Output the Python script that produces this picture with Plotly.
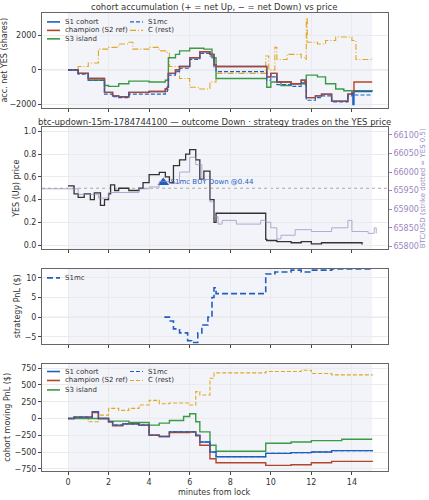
import plotly.graph_objects as go

# ---- panel 1: cohort accumulation (shares) ----
acc_t_s1 = [0,0.5,1,1.8,2.2,2.5,3,4,4.8,4.9,4.95,5.3,5.5,6,6.5,7,7.2,7.3,9.75,9.8,10,10.3,11,11.5,11.7,11.75,12.2,12.5,13,13.5,13.8,14,14.05,14.1,15]
acc_s1 = [0,-200,-500,-1300,-1500,-1550,-1300,-1250,-1100,-1000,-200,0,200,700,1050,900,300,200,200,-400,-200,-700,-800,-600,-700,-1600,-1500,-1400,-1800,-1800,-1400,-1300,-2000,-1250,-1250]
acc_champ = [0,-200,-500,-1300,-1500,-1550,-1300,-1250,-1100,-1000,-200,0,200,700,1050,900,300,200,200,-400,-200,-700,-800,-600,-700,-1600,-1500,-1400,-1800,-1800,-1400,-1300,-1300,-700,-700]
acc_s1mc = [0,-250,-600,-1400,-1550,-1600,-1400,-1400,-1250,-1150,-300,-100,100,600,950,800,100,-100,-100,-600,-400,-850,-950,-750,-850,-1750,-1600,-1500,-1850,-1850,-1500,-1400,-1450,-1450,-1450]
acc_t_s3 = [0,0.5,1,1.8,2,2.5,3,4,4.8,4.95,5.3,5.5,6,6.7,7.1,7.3,9.75,9.8,10,10.5,11,11.7,11.75,12.3,12.7,13.2,13.6,15]
acc_s3 = [0,-200,-600,-900,-950,-800,-650,-700,-600,700,900,1100,1250,1200,700,-500,-500,-1000,-700,-900,-800,-700,-300,-400,-800,-1100,-1200,-1250]
acc_t_c = [0,0.5,1,1.5,2,2.5,3,3.2,4,4.5,4.9,5,5.5,6,6.5,7,7.3,9.7,9.75,9.9,10.2,10.3,10.8,11.5,11.7,11.75,11.8,12.3,12.7,13.2,14,14.2,15]
acc_c = [0,200,400,1200,1300,1500,1600,1200,1300,1100,1000,200,-500,-1000,-1100,-700,-200,-200,800,0,1300,600,900,700,600,3000,1600,1500,1700,1900,1700,600,700]

# ---- panel 2: YES price and BTC ----
yes_t = [0,0.3,0.5,0.8,1.1,1.3,1.6,1.8,2,2.1,2.3,2.5,3,3.5,3.7,4,4.5,4.8,5,5.2,5.5,5.8,6,6.3,6.5,6.7,7,7.2,7.3,9.75,9.8,10.3,11,11.5,12,12.5,14.5]
yes_p = [0.52,0.45,0.42,0.45,0.40,0.46,0.35,0.40,0.45,0.53,0.48,0.50,0.48,0.50,0.55,0.62,0.64,0.60,0.55,0.70,0.75,0.80,0.84,0.75,0.58,0.65,0.40,0.20,0.28,0.05,0.04,0.03,0.02,0.03,0.01,0.02,0.005]
btc_t = [-1.3,0,0.5,1.5,2,3.5,4,4.5,5,5.5,6,6.3,6.6,7,7.2,7.4,7.6,8.3,9.5,9.75,10,10.3,10.5,11.2,12,13,13.8,14,14.8,15.1,15.2]
btc_p = [65955,65955,65940,65930,65945,65955,65960,65975,65970,66000,66040,66020,65980,65920,65880,65860,65870,65860,65870,65865,65850,65820,65830,65845,65840,65850,65870,65840,65835,65850,65835]
trade_t = [4.7]
trade_p = [0.55]
trade_label = ["S1mc BUY Down @0.44"]

# ---- panel 3: strategy PnL ----
pnl_t = [4.75,5,5.2,5.5,5.9,6.1,6.4,6.6,6.9,7.1,7.2,7.3,9.7,9.75,10.2,11,11.5,12,13,15]
pnl_s1mc = [0,-1,-3,-4,-6,-6.5,-4,-2,0,5,7.5,6,6,11,11.5,12,11.5,12,12.3,12.5]

# ---- panel 4: cohort moving PnL ----
mv_t = [0,0.3,1.2,1.5,2,2.2,2.7,3.5,4,4.5,5,6,6.3,6.5,7,7.3,9.75,11,12,13,15]
mv_s1 = [0,20,100,0,-50,-100,-80,-100,-250,-270,-200,-200,-250,-350,-500,-570,-520,-510,-500,-480,-470]
mv_champ = [0,20,90,0,-50,-110,-80,-100,-250,-270,-210,-200,-260,-400,-600,-660,-700,-690,-660,-640,-630]
mv_s1mc = [0,20,100,0,-50,-100,-80,-100,-250,-270,-200,-200,-250,-350,-500,-570,-520,-510,-500,-480,-470]
mv_t_s3 = [0,2,3,4,4.5,5,5.7,6,6.3,6.5,7,7.3,9.75,11,12,13.5,15]
mv_s3 = [0,-40,-60,-100,-70,-30,30,70,-50,-200,-400,-490,-370,-350,-330,-310,-310]
mv_t_c = [0,1,1.5,2,2.5,3,3.5,4,4.5,5,6,6.3,6.5,7,7.2,9.75,11.5,12,13,15]
mv_c = [0,-50,50,150,120,150,200,270,220,230,200,400,350,600,680,700,720,670,650,640]

BLUE = "#1f5fbf"; RED = "#b5452a"; GREEN = "#3a9a45"; ORANGE = "#e0a820"; PURPLE = "#9b86c0"
FONT = "DejaVu Sans"
W, H = 429, 500
DASH = "4px,2px"
DASHDOT = "6px,2px,1px,2px"

fig = go.Figure()

def line(x, y, color, dash="solid", width=1.4, xa="x", ya="y"):
    fig.add_trace(go.Scatter(x=x, y=y, mode="lines", line=dict(color=color, dash=dash, width=width, shape="hv"),
                             xaxis=xa, yaxis=ya, showlegend=False))

# panel 1
line(acc_t_c, acc_c, ORANGE, DASHDOT, 1.1)
line(acc_t_s3, acc_s3, GREEN)
line(acc_t_s1, acc_s1, BLUE)
line(acc_t_s1, acc_champ, RED)
line(acc_t_s1, acc_s1mc, BLUE, DASH, 1.1)

# panel 2
fig.add_trace(go.Scatter(x=btc_t, y=btc_p, mode="lines", line=dict(color=PURPLE, width=1, shape="hv"), opacity=0.7,
                         xaxis="x2", yaxis="y5", showlegend=False))
line(yes_t, yes_p, "#333333", width=1.3, xa="x2", ya="y2")
fig.add_trace(go.Scatter(x=trade_t, y=trade_p, mode="markers+text", marker=dict(symbol="triangle-up", size=10, color=BLUE),
                         text=trade_label, textposition="middle right",
                         textfont=dict(color=BLUE, size=7, family=FONT), xaxis="x2", yaxis="y2", showlegend=False))

# panel 3
line(pnl_t, pnl_s1mc, BLUE, "6px,3px", 1.6, xa="x3", ya="y3")

# panel 4
line(mv_t_c, mv_c, ORANGE, DASH, 1.1, xa="x4", ya="y4")
line(mv_t_s3, mv_s3, GREEN, xa="x4", ya="y4")
line(mv_t, mv_s1, BLUE, xa="x4", ya="y4")
line(mv_t, mv_champ, RED, xa="x4", ya="y4")
line(mv_t, mv_s1mc, BLUE, DASH, 1.1, xa="x4", ya="y4")

xd = [0.098, 0.904]
doms = {"": [0.784, 0.974], "2": [0.50, 0.744], "3": [0.31, 0.46], "4": [0.054, 0.27]}
ranges = {"": [-2175, 3290], "2": [-0.035, 1.035], "3": [-6.75, 12.3], "4": [-785, 819]}
titles = {"": "acc. net YES (shares)", "2": "YES (Up) price", "3": "strategy PnL ($)", "4": "cohort moving PnL ($)"}
axstyle = dict(showline=True, linecolor="#666", linewidth=1, mirror=True, ticks="outside", ticklen=3,
               gridcolor="#ebebeb", zeroline=False, tickfont=dict(size=8, color="#333"))
lay = {}
for k, d in doms.items():
    lay["xaxis" + k] = dict(domain=xd, range=[-1.28, 15.77], anchor="y" + k, tickvals=list(range(0, 15, 2)),
                            showticklabels=(k == "4"), **axstyle)
    lay["yaxis" + k] = dict(domain=d, range=ranges[k], anchor="x" + k,
                            title=dict(text=titles[k], font=dict(size=8, color="#333"), standoff=2), **axstyle)
lay["yaxis2"]["tickvals"] = [0, 0.2, 0.4, 0.6, 0.8, 1.0]
lay["yaxis2"]["tickformat"] = ".1f"
lay["yaxis3"]["tickvals"] = [-5, 0, 5, 10]
lay["yaxis4"]["tickvals"] = [-750, -500, -250, 0, 250, 500, 750]
lay["yaxis5"] = dict(overlaying="y2", side="right", anchor="x2", range=[65793, 66120], tickformat="d",
                     tickvals=[65800, 65850, 65900, 65950, 66000, 66050, 66100], showgrid=False, zeroline=False,
                     ticks="outside", ticklen=3, tickfont=dict(size=8, color=PURPLE), tickcolor=PURPLE,
                     title=dict(text="BTC/USD (strike dotted = YES 0.5)", font=dict(size=7, color=PURPLE), standoff=1))

shapes = []
for k in doms:
    shapes.append(dict(type="rect", xref="x" + k, yref="y" + k + " domain", x0=0, x1=15, y0=0, y1=1,
                       fillcolor="#f2f4fa", line=dict(width=0), layer="below"))
    zy = 0.5 if k == "2" else 0
    shapes.append(dict(type="line", xref="x" + k + " domain", yref="y" + k, x0=0, x1=1, y0=zy, y1=zy,
                       line=dict(color="#aaa" if k == "2" else "#ddd", width=1, dash="dot" if k == "2" else "solid"),
                       layer="below"))

annotations = [
    dict(text="cohort accumulation (+ = net Up, − = net Down) vs price", xref="paper", yref="paper",
         x=0.5, y=1 - 7 / H, xanchor="center", yanchor="middle", showarrow=False, font=dict(size=8.5)),
    dict(text="btc-updown-15m-1784744100 — outcome Down · strategy trades on the YES price", xref="paper", yref="paper",
         x=0.5, y=1 - 122 / H, xanchor="center", yanchor="middle", showarrow=False, font=dict(size=8.5)),
    dict(text="minutes from lock", xref="paper", yref="paper", x=0.5, y=1 - 494 / H, xanchor="center", yanchor="middle",
         showarrow=False, font=dict(size=8)),
]

# manual legends: (label, color, dash, width, x_px, y_px)
C2 = 130
legend_rows = [
    ("S1 cohort", BLUE, "solid", 1.6, 47, 22), ("champion (S2 ref)", RED, "solid", 1.6, 47, 30.5),
    ("S3 island", GREEN, "solid", 1.6, 47, 39), ("S1mc", BLUE, DASH, 1.1, C2, 22), ("C (rest)", ORANGE, DASHDOT, 1.1, C2, 30.5),
    ("S1mc", BLUE, "6px,3px", 1.6, 47, 279),
    ("S1 cohort", BLUE, "solid", 1.6, 47, 373), ("champion (S2 ref)", RED, "solid", 1.6, 47, 382),
    ("S3 island", GREEN, "solid", 1.6, 47, 391.5), ("S1mc", BLUE, DASH, 1.1, C2, 373), ("C (rest)", ORANGE, DASH, 1.1, C2, 382),
]
for lab, col, dsh, wd, xp, yp in legend_rows:
    shapes.append(dict(type="line", xref="paper", yref="paper", x0=xp / W, x1=(xp + 13) / W, y0=1 - yp / H, y1=1 - yp / H,
                       line=dict(color=col, width=wd, dash=dsh)))
    annotations.append(dict(text=lab, xref="paper", yref="paper", x=(xp + 16) / W, y=1 - yp / H, xanchor="left",
                            yanchor="middle", showarrow=False, font=dict(size=7, color="#333")))

fig.update_layout(
    width=W, height=H, margin=dict(l=0, r=0, t=0, b=0), plot_bgcolor="white", paper_bgcolor="white",
    font=dict(family=FONT, size=8, color="#333"), shapes=shapes, annotations=annotations, hovermode=False,
    showlegend=False, **lay)
fig.write_html("out.html", config={"displayModeBar": False},
               post_script="document.body.style.margin='0';document.body.style.overflow='hidden';")
